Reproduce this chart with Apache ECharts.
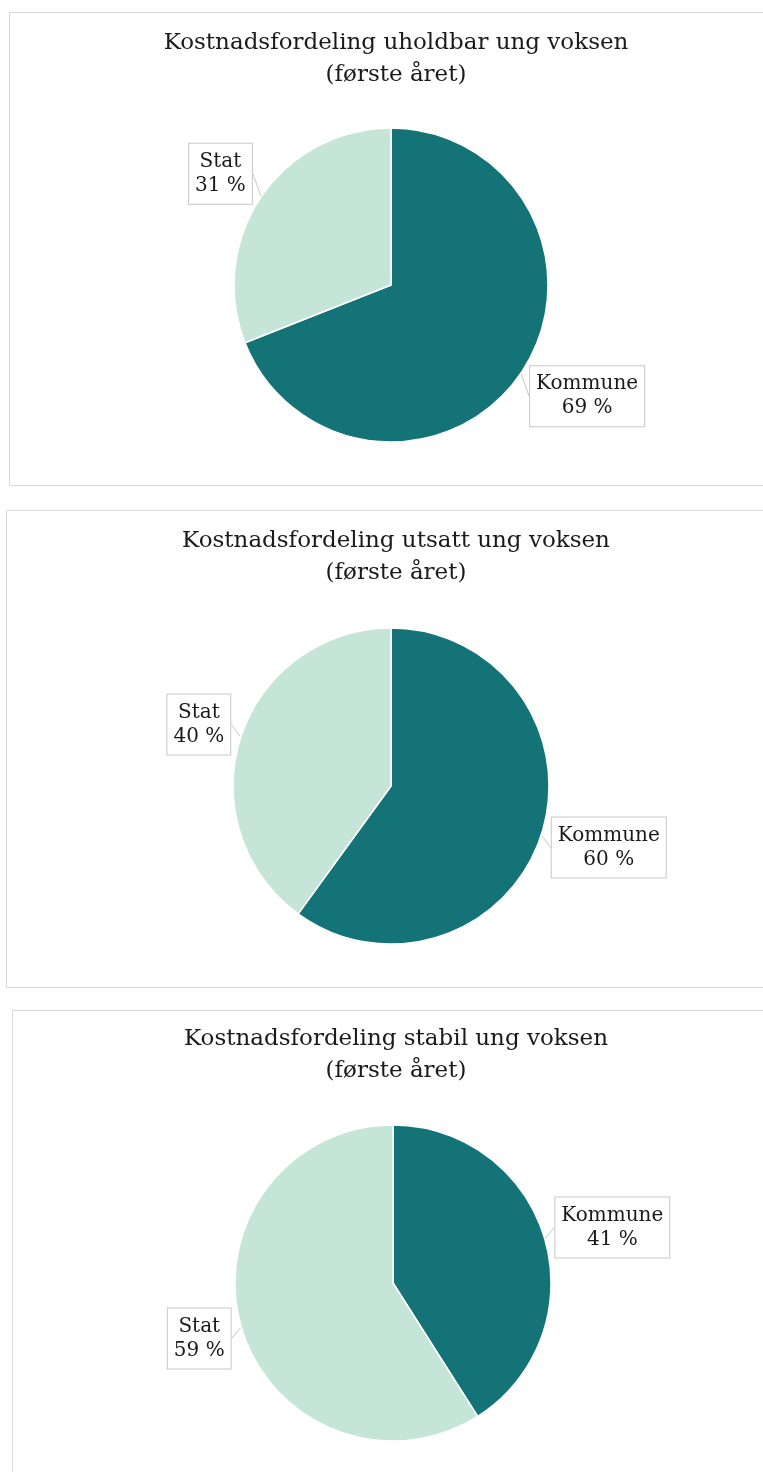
<!DOCTYPE html>
<html>
<head>
<meta charset="utf-8">
<script src="https://cdn.jsdelivr.net/npm/echarts@6/dist/echarts.min.js"></script>
<style>
  html, body { margin: 0; padding: 0; background: #fff; }
  #chart { width: 763px; height: 1472px; }
</style>
</head>
<body>
<div id="chart"></div>
<script>
// data
var titles = [
  'Kostnadsfordeling uholdbar ung voksen\n(første året)',
  'Kostnadsfordeling utsatt ung voksen\n(første året)',
  'Kostnadsfordeling stabil ung voksen\n(første året)'
]
var categories = ['Kommune', 'Stat']
var kommune = [69, 60, 41]
var stat = [31, 40, 59]

var colors = ['#147377', '#c6e5d9']
var font = 'DejaVu Serif'

// panel layout (boxes, title top, pie centre)
var panels = [
  { x: 9, y: 12, h: 473, titleTop: 22, cx: 391, cy: 285, r: 157 },
  { x: 6, y: 510, h: 477, titleTop: 520, cx: 391, cy: 786, r: 158 },
  { x: 12, y: 1010, h: 520, titleTop: 1018, cx: 393, cy: 1283, r: 158 }
]

var chart = echarts.init(document.getElementById('chart'))

var graphics = panels.map(function (p) {
  return {
    type: 'rect',
    shape: { x: p.x + 0.5, y: p.y + 0.5, width: 900, height: p.h },
    style: { fill: '#fff', stroke: '#d9d9d9', lineWidth: 1 },
    z: -10
  }
})

var titleList = panels.map(function (p, i) {
  return {
    text: titles[i],
    left: 391,
    top: p.titleTop,
    textAlign: 'center',
    textStyle: {
      fontFamily: font,
      fontWeight: 'normal',
      fontSize: 23,
      lineHeight: 32,
      color: '#1a1a1a'
    }
  }
})

function makeSeries (i) {
  var p = panels[i]
  var vals = [kommune[i], stat[i]]
  var total = vals[0] + vals[1]
  // mid angle of each slice, clockwise from top
  var mids = []
  var acc = 0
  vals.forEach(function (v) {
    mids.push((acc + v / 2) / total * Math.PI * 2)
    acc += v
  })
  return {
    type: 'pie',
    center: [p.cx, p.cy],
    radius: p.r,
    startAngle: 90,
    clockwise: true,
    silent: true,
    itemStyle: { borderColor: '#fff', borderWidth: 1.5 },
    label: {
      show: true,
      position: 'outside',
      formatter: function (d) { return d.name + '\n' + d.value + ' %' },
      fontFamily: font,
      fontSize: 20,
      lineHeight: 24,
      color: '#1a1a1a',
      align: 'center',
      backgroundColor: '#fff',
      borderColor: '#c8c8c8',
      borderWidth: 1,
      padding: [6, 6]
    },
    labelLine: { show: true, length: 8, length2: 0, lineStyle: { color: '#c8c8c8', width: 1 } },
    labelLayout: function (params) {
      var a = mids[params.dataIndex]
      var dx = Math.sin(a)
      var dy = -Math.cos(a)
      var ax = p.cx + dx * (p.r + 10)
      var ay = p.cy + dy * (p.r + 10)
      return {
        x: ax + (dx < 0 ? -1 : 1) * params.labelRect.width / 2,
        y: ay + dy * params.labelRect.height / 2,
        align: 'center',
        verticalAlign: 'middle'
      }
    },
    data: categories.map(function (c, k) {
      return { name: c, value: vals[k], itemStyle: { color: colors[k] } }
    })
  }
}

var option = {
  animation: false,
  backgroundColor: '#fff',
  graphic: graphics,
  title: titleList,
  series: [makeSeries(0), makeSeries(1), makeSeries(2)]
}

chart.setOption(option)
</script>
</body>
</html>
